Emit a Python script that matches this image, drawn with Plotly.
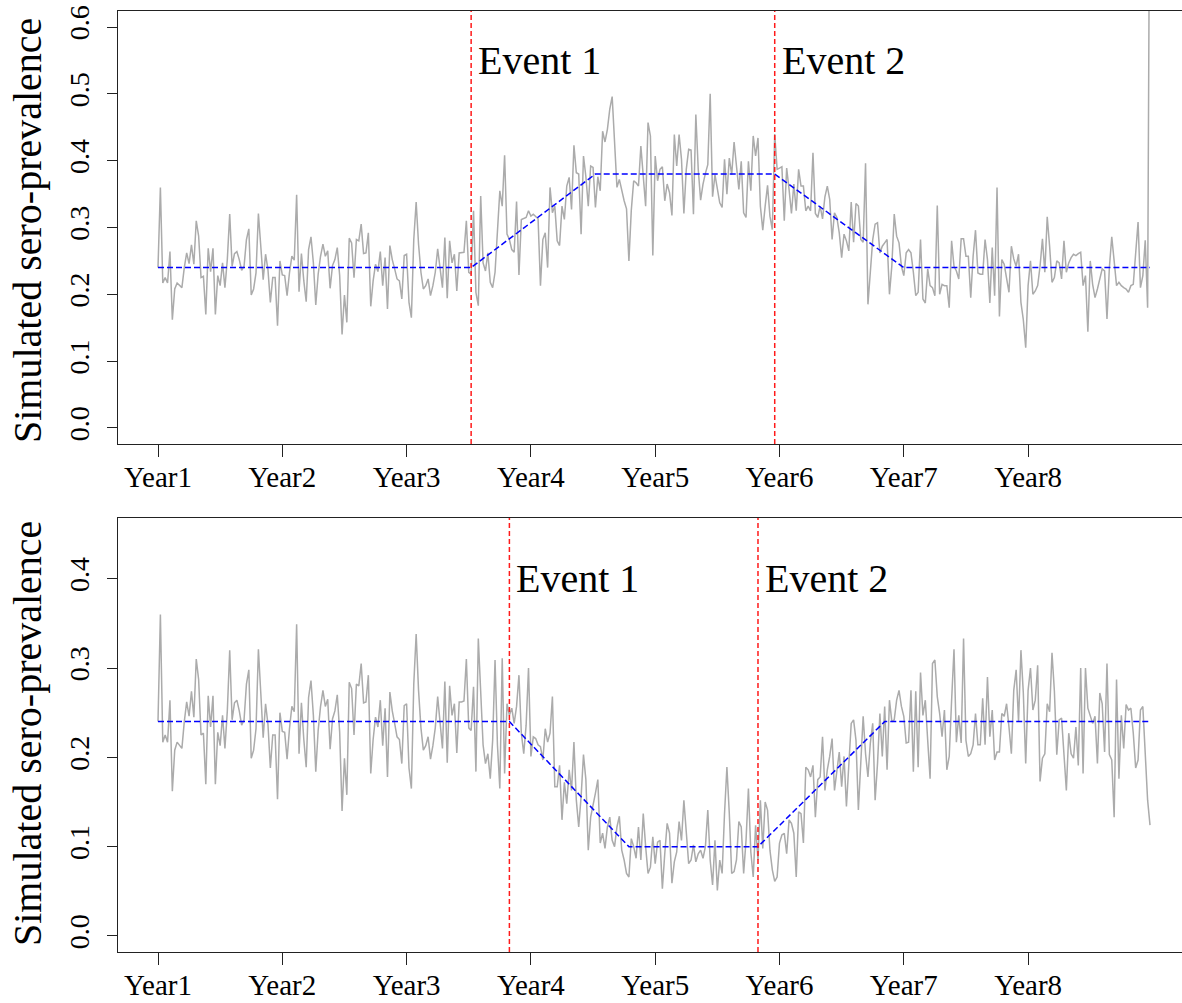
import plotly.graph_objects as go

# ---------------------------------------------------------------------------
# Data: weekly simulated sero-prevalence over eight years (416 weeks)
# ---------------------------------------------------------------------------
year_labels = ["Year1", "Year2", "Year3", "Year4", "Year5", "Year6", "Year7", "Year8"]
year_weeks = [1, 53, 105, 157, 209, 261, 313, 365]
event_labels = ["Event 1", "Event 2"]

# Weeks 1-132 are common to both scenarios
shared_start = [
    0.240, 0.360, 0.217, 0.225, 0.217, 0.264, 0.162, 0.208, 0.217, 0.214,
    0.210, 0.240, 0.262, 0.246, 0.274, 0.245, 0.310, 0.287, 0.225, 0.227,
    0.170, 0.269, 0.234, 0.269, 0.170, 0.228, 0.213, 0.247, 0.210, 0.252,
    0.320, 0.242, 0.261, 0.264, 0.252, 0.236, 0.242, 0.282, 0.298, 0.199,
    0.208, 0.232, 0.321, 0.272, 0.222, 0.260, 0.237, 0.188, 0.225, 0.225,
    0.153, 0.250, 0.229, 0.228, 0.198, 0.232, 0.257, 0.251, 0.349, 0.204,
    0.261, 0.220, 0.189, 0.267, 0.286, 0.247, 0.184, 0.230, 0.257, 0.275,
    0.257, 0.265, 0.209, 0.243, 0.252, 0.270, 0.228, 0.140, 0.199, 0.158,
    0.284, 0.277, 0.225, 0.282, 0.280, 0.305, 0.261, 0.262, 0.292, 0.182,
    0.220, 0.245, 0.234, 0.264, 0.213, 0.255, 0.178, 0.273, 0.252,
    0.238, 0.223, 0.220, 0.193, 0.258, 0.260, 0.188, 0.165, 0.282, 0.338,
    0.275, 0.233, 0.208, 0.213, 0.223, 0.198, 0.213, 0.233, 0.268, 0.238,
    0.210, 0.285, 0.194, 0.280, 0.247, 0.260, 0.205, 0.262, 0.262, 0.263,
    0.310, 0.233, 0.230,
]

# Scenario 1 (rise then fall), weeks 133-416
upper_rest = [
    0.325, 0.203, 0.183, 0.347, 0.247, 0.235, 0.262,
    0.218, 0.210, 0.233, 0.287, 0.355, 0.332, 0.408, 0.290, 0.282, 0.267,
    0.263, 0.339, 0.229, 0.312, 0.313, 0.315, 0.325, 0.317, 0.320,
    0.317, 0.313, 0.213, 0.282, 0.292, 0.240, 0.360, 0.322, 0.332,
    0.280, 0.273, 0.332, 0.312, 0.362, 0.375, 0.327, 0.423, 0.382, 0.380,
    0.290, 0.407, 0.376, 0.332, 0.392, 0.390, 0.330, 0.376, 0.355, 0.444,
    0.428, 0.447, 0.477, 0.496, 0.436, 0.360, 0.372, 0.355, 0.340, 0.328,
    0.250, 0.326, 0.370, 0.367, 0.362, 0.422, 0.380, 0.332, 0.457,
    0.437, 0.258, 0.407, 0.370, 0.387, 0.391, 0.340, 0.365, 0.352, 0.318,
    0.439, 0.392, 0.439, 0.402, 0.321, 0.387, 0.417, 0.416, 0.320, 0.469,
    0.387, 0.341, 0.365, 0.381, 0.394, 0.500, 0.346, 0.379, 0.357, 0.337,
    0.330, 0.402, 0.350, 0.404, 0.379, 0.428, 0.392, 0.357, 0.399, 0.322,
    0.315, 0.399, 0.355, 0.437, 0.407, 0.434, 0.332, 0.296, 0.332, 0.363,
    0.317, 0.297, 0.440, 0.387, 0.389, 0.391, 0.310, 0.389, 0.357, 0.321,
    0.365, 0.325, 0.387, 0.362, 0.362, 0.325, 0.332, 0.325, 0.412, 0.321,
    0.315, 0.332, 0.313, 0.346, 0.362, 0.342, 0.282, 0.322, 0.315, 0.292,
    0.255, 0.290, 0.280, 0.265, 0.338, 0.278, 0.336, 0.332, 0.282, 0.278,
    0.396, 0.185, 0.233, 0.282, 0.305, 0.307, 0.262, 0.272, 0.277, 0.282,
    0.200, 0.243, 0.320, 0.287, 0.277,
    0.242, 0.228, 0.262, 0.267, 0.262, 0.233, 0.198, 0.203, 0.282, 0.193,
    0.187, 0.238, 0.213, 0.210, 0.198, 0.333, 0.200, 0.215, 0.213, 0.213,
    0.180, 0.280, 0.242, 0.235, 0.223, 0.283, 0.283, 0.257, 0.257, 0.195,
    0.257, 0.296, 0.232, 0.230, 0.230, 0.282, 0.252, 0.187, 0.270, 0.198,
    0.360, 0.167, 0.252, 0.245, 0.225, 0.203, 0.272, 0.253, 0.242, 0.260,
    0.188, 0.162, 0.120, 0.213, 0.250, 0.200, 0.205, 0.213, 0.242, 0.283,
    0.233, 0.316, 0.272, 0.218, 0.225, 0.250, 0.247, 0.223, 0.280, 0.233,
    0.247, 0.255, 0.260, 0.258, 0.261, 0.263, 0.213, 0.228, 0.144, 0.250,
    0.215, 0.195, 0.208, 0.223, 0.238, 0.235, 0.163, 0.240, 0.286, 0.250,
    0.213, 0.218, 0.213, 0.210, 0.208, 0.203, 0.213, 0.215, 0.260, 0.308,
    0.210, 0.228, 0.281, 0.180,
    0.950,
]

# Scenario 2 (fall then recovery), weeks 133-416
lower_rest = [
    0.279, 0.184, 0.333, 0.274, 0.214, 0.193, 0.204, 0.176, 0.219, 0.309,
    0.214, 0.165, 0.311, 0.182, 0.260, 0.247, 0.255, 0.238, 0.257, 0.292,
    0.227, 0.204, 0.236, 0.300, 0.201, 0.223, 0.221, 0.214, 0.212, 0.197,
    0.232, 0.217, 0.227, 0.268, 0.167, 0.167, 0.191, 0.130, 0.172, 0.148,
    0.186, 0.163, 0.217, 0.152, 0.122, 0.156, 0.203, 0.175, 0.096, 0.133,
    0.145, 0.160, 0.175, 0.104, 0.115, 0.098, 0.122, 0.133, 0.107, 0.100,
    0.122, 0.134, 0.096, 0.085, 0.070, 0.066, 0.109, 0.100, 0.087, 0.122,
    0.085, 0.137, 0.100, 0.070,
    0.077, 0.111, 0.081, 0.105, 0.107, 0.053, 0.092, 0.126, 0.115, 0.059,
    0.083, 0.094, 0.128, 0.107, 0.152, 0.115, 0.081, 0.085, 0.102, 0.083,
    0.092, 0.096, 0.087, 0.100, 0.141, 0.085, 0.057, 0.107, 0.051, 0.085,
    0.070, 0.137, 0.189, 0.137, 0.070, 0.072, 0.085, 0.128, 0.122, 0.070,
    0.107, 0.165, 0.094, 0.066, 0.124, 0.085, 0.152, 0.098, 0.150, 0.141,
    0.096, 0.074, 0.061, 0.066, 0.104, 0.113, 0.115, 0.092, 0.130, 0.126,
    0.115, 0.066, 0.139, 0.137, 0.104, 0.189, 0.186, 0.178, 0.191, 0.133,
    0.175, 0.178, 0.223, 0.163, 0.186, 0.201, 0.221, 0.163, 0.182, 0.206,
    0.167, 0.201, 0.145, 0.193, 0.238, 0.242, 0.219, 0.141, 0.201, 0.246,
    0.204, 0.178, 0.216, 0.238, 0.152, 0.193, 0.249, 0.201, 0.257, 0.186,
    0.264, 0.240, 0.242, 0.264, 0.275,
    0.257, 0.246, 0.216, 0.217, 0.275, 0.184, 0.274, 0.189, 0.295, 0.247,
    0.264, 0.219, 0.176, 0.305, 0.309, 0.268, 0.249, 0.223, 0.253, 0.186,
    0.201, 0.264, 0.321, 0.217, 0.247, 0.216, 0.333, 0.219, 0.201, 0.204,
    0.214, 0.249, 0.214, 0.214, 0.266, 0.214, 0.290, 0.223, 0.253, 0.197,
    0.206, 0.206, 0.249, 0.246, 0.260, 0.234, 0.204, 0.275, 0.298, 0.240,
    0.320, 0.272, 0.193, 0.275, 0.300, 0.253, 0.264, 0.303, 0.173, 0.199,
    0.204, 0.260, 0.251, 0.317, 0.274, 0.203, 0.242, 0.244, 0.204, 0.163,
    0.227, 0.204, 0.199, 0.234, 0.191, 0.300, 0.182, 0.300, 0.255, 0.246,
    0.238, 0.246, 0.193, 0.272, 0.260, 0.206, 0.305, 0.203, 0.197, 0.133,
    0.287, 0.176, 0.247, 0.210, 0.259, 0.253, 0.255, 0.227, 0.188, 0.197,
    0.253, 0.257, 0.197, 0.152, 0.124,
]

upper_prevalence = shared_start + upper_rest
lower_prevalence = shared_start + lower_rest
assert len(upper_prevalence) == 416, len(upper_prevalence)
assert len(lower_prevalence) == 416, len(lower_prevalence)

# Underlying (true) prevalence curves, as breakpoints
upper_trend_weeks = [1, 132, 184, 259, 313, 416]
upper_trend_values = [0.24, 0.24, 0.38, 0.38, 0.24, 0.24]
lower_trend_weeks = [1, 148, 198, 252, 305, 416]
lower_trend_values = [0.24, 0.24, 0.10, 0.10, 0.24, 0.24]

upper_event_weeks = [132, 259]
lower_event_weeks = [148, 252]

upper_yticks = [0.0, 0.1, 0.2, 0.3, 0.4, 0.5, 0.6]
lower_yticks = [0.0, 0.1, 0.2, 0.3, 0.4]

# ---------------------------------------------------------------------------
# Styling
# ---------------------------------------------------------------------------
W, H = 1182, 1003
SERIF = "Liberation Serif, Times New Roman, serif"
AXIS_COLOR = "#222222"
GRAY = "#ABABAB"
BLUE = "#0000FF"
RED = "#FF1A1A"

weeks = list(range(1, len(upper_prevalence) + 1))

# horizontal geometry: the plot frame runs past the right edge of the page
x_left_px, x_right_px = 118, 1182
px_per_week = 124.3 / 52
x_min = 1 - (158 - x_left_px) / px_per_week
x_max = x_min + (x_right_px - x_left_px) / px_per_week

panels = [
    dict(xa="x", ya="y", values=upper_prevalence,
         tw=upper_trend_weeks, tv=upper_trend_values,
         events=upper_event_weeks, label_y=0.55,
         yrange=[-0.024, 0.624], yticks=upper_yticks,
         top_px=11, bottom_px=444, title_center_px=231),
    dict(xa="x2", ya="y2", values=lower_prevalence,
         tw=lower_trend_weeks, tv=lower_trend_values,
         events=lower_event_weeks, label_y=0.40,
         yrange=[-0.018, 0.468], yticks=lower_yticks,
         top_px=518, bottom_px=952, title_center_px=734),
]

fig = go.Figure()
layout_axes = {}

for i, p in enumerate(panels):
    fig.add_trace(go.Scatter(
        x=weeks, y=p["values"], mode="lines",
        line=dict(color=GRAY, width=1.5),
        xaxis=p["xa"], yaxis=p["ya"], showlegend=False, hoverinfo="skip"))
    fig.add_trace(go.Scatter(
        x=p["tw"], y=p["tv"], mode="lines",
        line=dict(color=BLUE, width=1.5, dash="6px,3px"),
        xaxis=p["xa"], yaxis=p["ya"], showlegend=False, hoverinfo="skip"))

    for wk, lab in zip(p["events"], event_labels):
        fig.add_shape(type="line", xref=p["xa"], yref=p["ya"] + " domain",
                      x0=wk, x1=wk, y0=0, y1=1,
                      line=dict(color=RED, width=1.5, dash="5px,3px"))
        fig.add_annotation(x=wk, y=p["label_y"], xref=p["xa"], yref=p["ya"],
                           text=lab, showarrow=False, xanchor="left",
                           yanchor="middle", xshift=5,
                           font=dict(family=SERIF, size=40, color="black"))

    y_lo = 1 - p["bottom_px"] / H
    y_hi = 1 - p["top_px"] / H
    suffix = "" if i == 0 else str(i + 1)

    layout_axes["xaxis" + suffix] = dict(
        domain=[x_left_px / W, x_right_px / W], range=[x_min, x_max],
        anchor=p["ya"], tickmode="array", tickvals=year_weeks,
        ticktext=year_labels, ticks="outside", ticklen=12, tickwidth=1,
        tickcolor=AXIS_COLOR, showline=True, mirror=True,
        linecolor=AXIS_COLOR, linewidth=1, showgrid=False, zeroline=False,
        ticklabelstandoff=-5, automargin=False,
        tickfont=dict(family=SERIF, size=29, color="black"))
    layout_axes["yaxis" + suffix] = dict(
        domain=[y_lo, y_hi], range=p["yrange"], anchor=p["xa"],
        tickmode="array", tickvals=p["yticks"],
        ticktext=["%.1f" % v for v in p["yticks"]], tickangle=-90,
        ticks="outside", ticklen=10, tickwidth=1, tickcolor=AXIS_COLOR,
        showline=True, mirror=False, linecolor=AXIS_COLOR, linewidth=1,
        showgrid=False, zeroline=False, ticklabelstandoff=7, automargin=False,
        tickfont=dict(family=SERIF, size=28, color="black"))

    fig.add_annotation(x=27 / W, y=1 - p["title_center_px"] / H,
                       xref="paper", yref="paper",
                       text="Simulated sero-prevalence", textangle=-90,
                       showarrow=False, xanchor="center", yanchor="middle",
                       font=dict(family=SERIF, size=40, color="black"))

fig.update_layout(
    width=W, height=H, margin=dict(l=0, r=0, t=0, b=0, autoexpand=False),
    paper_bgcolor="white", plot_bgcolor="white", showlegend=False,
    **layout_axes)

fig.write_html("out.html")
